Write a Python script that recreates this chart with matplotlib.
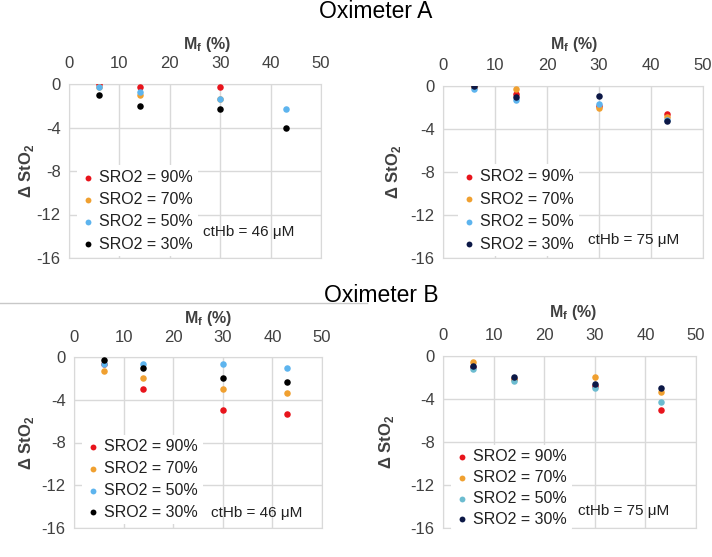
import numpy as np
import matplotlib.pyplot as plt

plt.rcParams['font.family'] = ['Liberation Sans', 'DejaVu Sans']
plt.rcParams['axes.unicode_minus'] = False

mf = [6, 14, 30, 43]
labels = ['SRO2 = 90%', 'SRO2 = 70%', 'SRO2 = 50%', 'SRO2 = 30%']

# oximeter A, ctHb 46 uM
a46_90 = [0.0, -0.25, -0.3, np.nan]
a46_70 = [-0.3, -1.0, -1.35, np.nan]
a46_50 = [-0.3, -0.7, -1.35, -2.3]
a46_30 = [-1.0, -2.0, -2.3, -4.0]

# oximeter A, ctHb 75 uM
a75_90 = [-0.1, -0.7, -1.9, -2.6]
a75_70 = [-0.1, -0.25, -2.0, -2.9]
a75_50 = [-0.3, -1.3, -1.65, -3.2]
a75_30 = [0.0, -1.0, -0.95, -3.3]

# oximeter B, ctHb 46 uM
b46_90 = [-0.7, -3.0, -5.0, -5.35]
b46_70 = [-1.35, -2.0, -3.0, -3.35]
b46_50 = [-0.7, -0.65, -0.7, -1.0]
b46_30 = [-0.3, -1.0, -2.0, -2.35]

# oximeter B, ctHb 75 uM
b75_90 = [-1.0, -2.1, -2.8, -5.0]
b75_70 = [-0.6, -2.1, -1.95, -3.35]
b75_50 = [-1.25, -2.3, -3.0, -4.3]
b75_30 = [-0.95, -1.95, -2.65, -2.95]

fig = plt.figure(figsize=(7.12, 5.57), dpi=100)
W, H = 712.0, 557.0

# box (px), series, colours, note, note pos, xlabel (x,y px), ylabel x px,
# legend shift (dx,dy px), legend row spacing
panels = [
    ((69, 84, 321, 258), [a46_90, a46_70, a46_50, a46_30],
     ['#e8141c', '#f0a030', '#5db4ee', '#000000'], 'ctHb = 46 μM', (26.6, -13.6),
     (207, 45), 27, (0, 0), 0.45),
    ((443, 86, 703, 258), [a75_90, a75_70, a75_50, a75_30],
     ['#e8141c', '#f0a030', '#5db4ee', '#0c1846'], 'ctHb = 75 μM', (27.9, -14.3),
     (574, 45), 393, (7, 0), 0.47),
    ((74, 357, 322, 528), [b46_90, b46_70, b46_50, b46_30],
     ['#e8141c', '#f0a030', '#5db4ee', '#000000'], 'ctHb = 46 μM', (27.6, -14.6),
     (208, 318), 27, (0, -2), 0.42),
    ((443, 356, 696, 528), [b75_90, b75_70, b75_50, b75_30],
     ['#e8141c', '#f0a030', '#6cbcd0', '#0c1846'], 'ctHb = 75 μM', (26.7, -14.4),
     (573, 312), 386, (0, 5), 0.36),
]

for (x0, y0, x1, y1), series, cols, note, npos, xl, ylx, lshift, lsp in panels:
    w, h = x1 - x0, y1 - y0
    ax = fig.add_axes([x0 / W, 1 - y1 / H, w / W, h / H])
    for vals, c, lab in zip(series, cols, labels):
        ax.scatter(mf, vals, s=22, color=c, label=lab, zorder=3, linewidths=0)
    ax.set_xlim(0, 50)
    ax.set_ylim(-16, 0)
    ax.set_xticks([0, 10, 20, 30, 40, 50])
    ax.set_yticks([0, -4, -8, -12, -16])
    ax.grid(True, color='#d9d9d9', lw=1)
    ax.set_axisbelow(True)
    for sp in ax.spines.values():
        sp.set_color('#d9d9d9')
    ax.xaxis.tick_top()
    ax.xaxis.set_label_position('top')
    ax.tick_params(length=0, labelsize=12, colors='#404040')
    ax.tick_params(axis='x', pad=9)
    ax.tick_params(axis='y', pad=6)
    ax.set_xlabel('M$_\\mathregular{f}$ (%)', fontsize=11.5, fontweight='bold',
                  color='#404040')
    ax.set_ylabel('Δ StO$_\\mathregular{2}$', fontsize=12, fontweight='bold',
                  color='#404040')
    ax.xaxis.set_label_coords((xl[0] - x0) / w, 1 + (y0 - xl[1]) / h)
    ax.xaxis.label.set_va('center')
    ax.yaxis.set_label_coords((ylx - x0) / w, 0.5)
    ax.yaxis.label.set_va('center')
    leg = ax.legend(loc='lower left',
                    bbox_to_anchor=(lshift[0] / w, -0.037 - lshift[1] / h),
                    frameon=True, fontsize=11.5, handletextpad=0.3,
                    labelspacing=lsp, borderpad=0.3, handlelength=0.8,
                    markerscale=0.9)
    leg.get_frame().set_facecolor('white')
    leg.get_frame().set_edgecolor('none')
    leg.get_frame().set_alpha(1)
    for t in leg.get_texts():
        t.set_color('#202020')
    ax.text(npos[0], npos[1], note, fontsize=11, color='#202020',
            ha='left', va='center', zorder=4)

fig.text(376 / W, 1 - 12 / H, 'Oximeter A', fontsize=16.5, ha='center', va='center')
fig.text(381 / W, 1 - 295 / H, 'Oximeter B', fontsize=16.5, ha='center', va='center')
fig.add_artist(plt.Line2D([0, 367 / W], [1 - 303 / H, 1 - 303 / H],
                          color='#c8c8c8', lw=1, transform=fig.transFigure))

fig.savefig('out.png', dpi=100)
